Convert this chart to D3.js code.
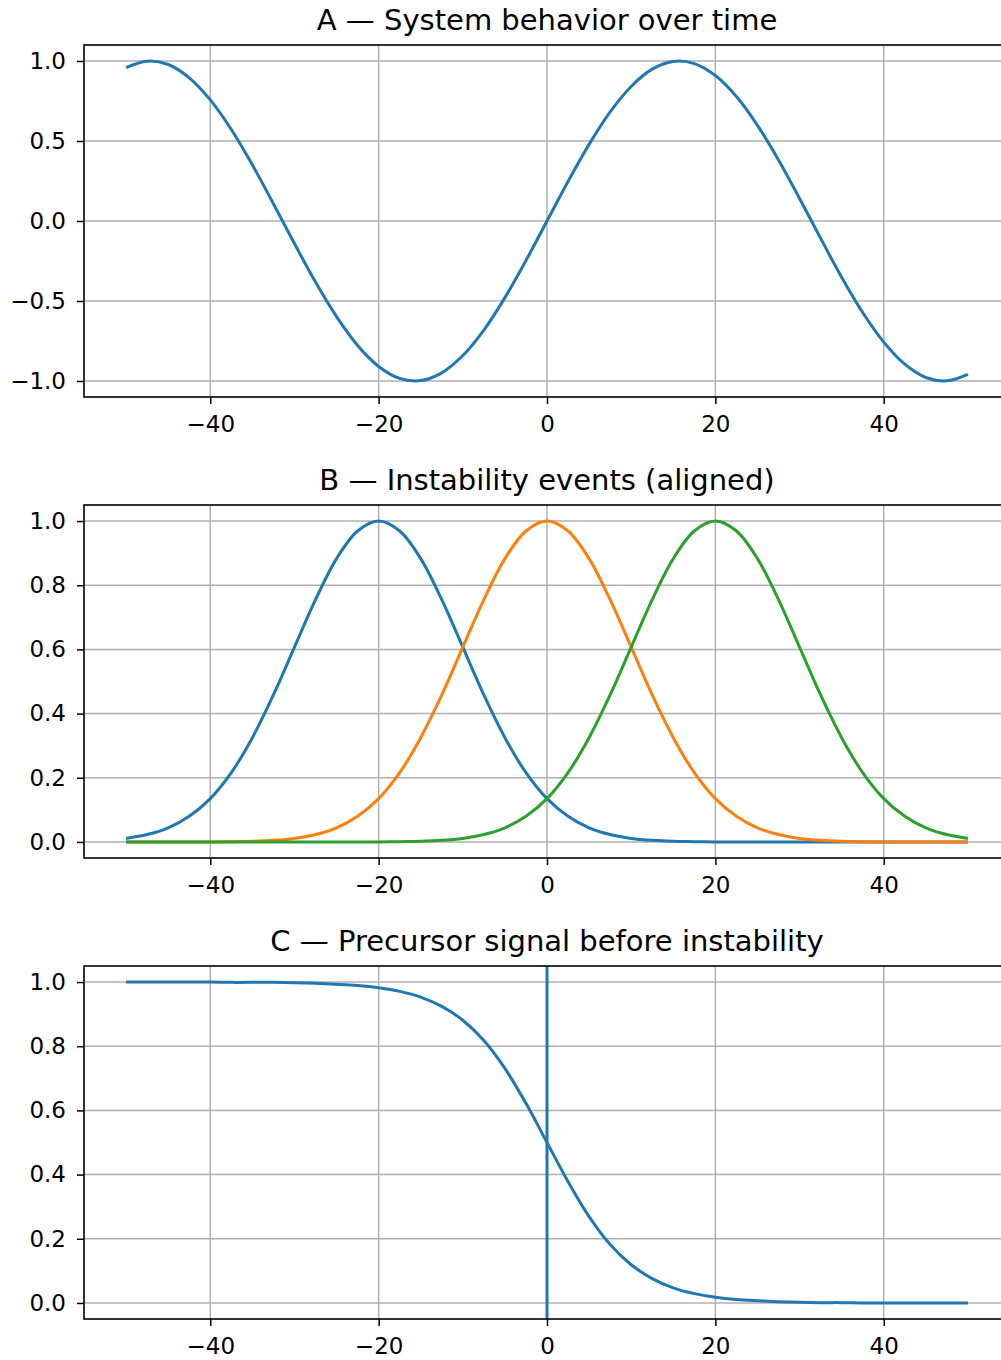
<!DOCTYPE html>
<html>
<head>
<meta charset="utf-8">
<script src="https://cdn.jsdelivr.net/npm/d3@7"></script>
<style>
  body { margin: 0; background: #fff; }
  text { font-family: "DejaVu Sans", sans-serif; fill: #000; }
  .tick text { font-size: 23px; }
  .title { font-size: 29px; }
</style>
</head>
<body>
<div id="chart"></div>
<script>
// x positions shared by all panels (sampled every 2.5)
const xs = d3.range(-50, 50.01, 2.5);

// A: system behavior
const systemVals = [0.959, 0.999, 0.978, 0.895, 0.757, 0.572, 0.351, 0.108, -0.141, -0.382,
  -0.598, -0.778, -0.909, -0.984, -0.997, -0.949, -0.841, -0.682, -0.479, -0.247,
  0.0, 0.247, 0.479, 0.682, 0.841, 0.949, 0.997, 0.984, 0.909, 0.778,
  0.598, 0.382, 0.141, -0.108, -0.351, -0.572, -0.757, -0.895, -0.978, -0.999, -0.959];

// B: aligned events
const eventBlue = [0.011, 0.023, 0.044, 0.080, 0.135, 0.216, 0.325, 0.458, 0.607, 0.755,
  0.883, 0.969, 1.0, 0.969, 0.883, 0.755, 0.607, 0.458, 0.325, 0.216,
  0.135, 0.080, 0.044, 0.023, 0.011, 0.005, 0.002, 0.001, 0.0, 0.0,
  0.0, 0.0, 0.0, 0.0, 0.0, 0.0, 0.0, 0.0, 0.0, 0.0, 0.0];
const eventOrange = [0.0, 0.0, 0.0, 0.0, 0.0, 0.001, 0.002, 0.005, 0.011, 0.023,
  0.044, 0.080, 0.135, 0.216, 0.325, 0.458, 0.607, 0.755, 0.883, 0.969,
  1.0, 0.969, 0.883, 0.755, 0.607, 0.458, 0.325, 0.216, 0.135, 0.080,
  0.044, 0.023, 0.011, 0.005, 0.002, 0.001, 0.0, 0.0, 0.0, 0.0, 0.0];
const eventGreen = [0.0, 0.0, 0.0, 0.0, 0.0, 0.0, 0.0, 0.0, 0.0, 0.0,
  0.0, 0.0, 0.0, 0.001, 0.002, 0.005, 0.011, 0.023, 0.044, 0.080,
  0.135, 0.216, 0.325, 0.458, 0.607, 0.755, 0.883, 0.969, 1.0, 0.969,
  0.883, 0.755, 0.607, 0.458, 0.325, 0.216, 0.135, 0.080, 0.044, 0.023, 0.011];

// C: precursor signal
const precursorVals = [1.0, 1.0, 1.0, 1.0, 1.0, 0.999, 0.999, 0.999, 0.998, 0.996,
  0.993, 0.989, 0.982, 0.971, 0.953, 0.924, 0.881, 0.818, 0.731, 0.622,
  0.5, 0.378, 0.269, 0.182, 0.119, 0.076, 0.047, 0.029, 0.018, 0.011,
  0.007, 0.004, 0.002, 0.001, 0.001, 0.0, 0.0, 0.0, 0.0, 0.0, 0.0];
const precursorMarker = 0;

const xTicks = [-40, -20, 0, 20, 40];
const yTicksA = [-1.0, -0.5, 0.0, 0.5, 1.0];
const yTicksBC = [0.0, 0.2, 0.4, 0.6, 0.8, 1.0];

const colors = ["#1f77b4", "#ff7f0e", "#2ca02c"];

const W = 1001, H = 1360;
const svg = d3.select("#chart").append("svg")
  .attr("width", W).attr("height", H);

const left = 84, right = 1010;

const panels = [
  { title: "A \u2014 System behavior over time", top: 45, bottom: 397,
    ydom: [-1.1, 1.1], yTicks: yTicksA,
    series: [systemVals], colors: [colors[0]] },
  { title: "B \u2014 Instability events (aligned)", top: 505, bottom: 858,
    ydom: [-0.05, 1.05], yTicks: yTicksBC,
    series: [eventBlue, eventOrange, eventGreen], colors: colors },
  { title: "C \u2014 Precursor signal before instability", top: 966, bottom: 1319,
    ydom: [-0.05, 1.05], yTicks: yTicksBC,
    series: [precursorVals], colors: [colors[0]], vline: precursorMarker }
];

panels.forEach(p => {
  const x = d3.scaleLinear().domain([-55, 55]).range([left, right]);
  const y = d3.scaleLinear().domain(p.ydom).range([p.bottom, p.top]);
  const g = svg.append("g");

  // grid
  g.selectAll(".gx").data(xTicks).enter().append("line")
    .attr("x1", d => x(d)).attr("x2", d => x(d))
    .attr("y1", p.top).attr("y2", p.bottom)
    .attr("stroke", "#b0b0b0").attr("stroke-width", 1.5);
  g.selectAll(".gy").data(p.yTicks).enter().append("line")
    .attr("x1", left).attr("x2", right)
    .attr("y1", d => y(d)).attr("y2", d => y(d))
    .attr("stroke", "#b0b0b0").attr("stroke-width", 1.5);

  const line = d3.line()
    .x((d, i) => x(xs[i]))
    .y(d => y(d))
    .curve(d3.curveCatmullRom.alpha(0.5));

  p.series.forEach((s, i) => {
    g.append("path").datum(s)
      .attr("d", line)
      .attr("fill", "none")
      .attr("stroke", p.colors[i])
      .attr("stroke-width", 3);
  });

  if (p.vline !== undefined) {
    g.append("line")
      .attr("x1", x(p.vline)).attr("x2", x(p.vline))
      .attr("y1", p.top).attr("y2", p.bottom)
      .attr("stroke", colors[0]).attr("stroke-width", 3);
  }

  // frame
  g.append("rect")
    .attr("x", left).attr("y", p.top)
    .attr("width", right - left).attr("height", p.bottom - p.top)
    .attr("fill", "none").attr("stroke", "#000").attr("stroke-width", 1.6);

  const xAxis = g.append("g")
    .attr("transform", `translate(0,${p.bottom})`)
    .call(d3.axisBottom(x).tickValues(xTicks).tickSize(7).tickPadding(12)
      .tickFormat(d => d3.format("d")(d).replace("-", "\u2212")));
  const yAxis = g.append("g")
    .attr("transform", `translate(${left},0)`)
    .call(d3.axisLeft(y).tickValues(p.yTicks).tickSize(7).tickPadding(11)
      .tickFormat(d => d3.format(".1f")(d).replace("-", "\u2212")));
  [xAxis, yAxis].forEach(a => {
    a.select(".domain").remove();
    a.selectAll(".tick line").attr("stroke", "#000").attr("stroke-width", 1.5);
    a.selectAll(".tick text").attr("font-family", null).attr("font-size", null);
  });

  g.append("text")
    .attr("class", "title")
    .attr("text-anchor", "middle")
    .attr("x", 547).attr("y", p.top - 15)
    .text(p.title);
});
</script>
</body>
</html>
